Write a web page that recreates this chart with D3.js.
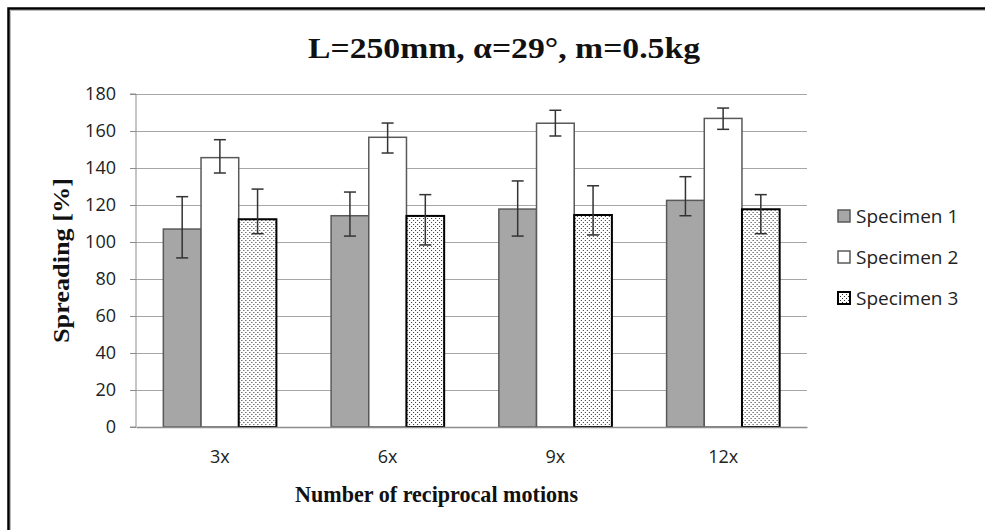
<!DOCTYPE html>
<html>
<head>
<meta charset="utf-8">
<script src="https://cdn.jsdelivr.net/npm/d3@7"></script>
<style>
  body { margin: 0; background: #fff; overflow: hidden; }
  svg { display: block; }
</style>
</head>
<body>
<div id="app"></div>
<script>
var categories = ["3x", "6x", "9x", "12x"];
var seriesNames = ["Specimen 1", "Specimen 2", "Specimen 3"];

// bar heights per series
var specimen1 = [107, 114.2, 117.8, 122.5];
var specimen2 = [145.6, 156.6, 164.2, 166.8];
var specimen3 = [112.3, 114.1, 114.6, 117.7];

// error bar ends (upper / lower)
var specimen1Hi = [124.5, 127, 133, 135.3];
var specimen1Lo = [91.4, 103.2, 103.2, 114.2];
var specimen2Hi = [155.3, 164.3, 171.2, 172.4];
var specimen2Lo = [137.3, 148.1, 157.3, 160.9];
var specimen3Hi = [128.6, 125.6, 130.4, 125.6];
var specimen3Lo = [104.5, 98.4, 103.8, 104.5];

var yTicks = [0, 20, 40, 60, 80, 100, 120, 140, 160, 180];

var W = 985, H = 530;
var margin = { top: 94, right: 178, bottom: 103, left: 136 };
var plotW = W - margin.left - margin.right;
var plotH = H - margin.top - margin.bottom;

var sansFont = "'Open Sans', 'Noto Sans', sans-serif";
var serifFont = "'Liberation Serif', 'DejaVu Serif', serif";

var rows = categories.map(function (c, i) {
    return [
        { cat: c, s: 0, v: specimen1[i], hi: specimen1Hi[i], lo: specimen1Lo[i] },
        { cat: c, s: 1, v: specimen2[i], hi: specimen2Hi[i], lo: specimen2Lo[i] },
        { cat: c, s: 2, v: specimen3[i], hi: specimen3Hi[i], lo: specimen3Lo[i] }
    ];
});

var fills = ["#a6a6a6", "#ffffff", "url(#dots)"];
var strokes = ["#595959", "#595959", "#000000"];
var strokeW = [1.5, 1.5, 2];

var svg = d3.select("#app")
    .append("svg")
    .attr("width", W)
    .attr("height", H);

var defs = svg.append("defs");
var pat = defs.append("pattern")
    .attr("id", "dots")
    .attr("width", 4)
    .attr("height", 4)
    .attr("patternUnits", "userSpaceOnUse");
pat.append("rect").attr("width", 4).attr("height", 4).attr("fill", "#fff");
pat.append("rect").attr("x", 0).attr("y", 0).attr("width", 1).attr("height", 1).attr("fill", "#333");
pat.append("rect").attr("x", 2).attr("y", 2).attr("width", 1).attr("height", 1).attr("fill", "#333");

//FRAME (only top and left edges are inside the picture)
svg.append("path")
    .attr("d", "M8.5," + H + "V8.5H" + W)
    .style("fill", "none")
    .style("stroke", "#000")
    .style("stroke-width", 2.5);
svg.append("path")
    .attr("d", "M10.5," + H + "V10.5H" + W)
    .style("fill", "none")
    .style("stroke", "#bbb")
    .style("stroke-width", 1);

var g = svg.append("g")
    .attr("transform", "translate(" + margin.left + "," + margin.top + ")");

var x = d3.scaleBand()
    .domain(categories)
    .range([0, plotW])
    .paddingInner(0.326)
    .paddingOuter(0.163);

var xs = d3.scaleBand()
    .domain([0, 1, 2])
    .range([0, x.bandwidth()]);

var y = d3.scaleLinear()
    .domain([0, 180])
    .range([plotH, 0]);

//GRID
g.append("g")
    .attr("class", "grid")
    .call(d3.axisLeft(y).tickValues(yTicks.slice(1)).tickSize(-plotW).tickFormat(""))
    .call(function (s) {
        s.select(".domain").remove();
        s.selectAll("line").style("stroke", "#a6a6a6").style("stroke-width", 1);
    });

//Y AXIS
g.append("g")
    .call(d3.axisLeft(y).tickValues(yTicks).tickSize(6).tickPadding(14))
    .call(function (s) {
        s.select(".domain").style("stroke", "#8c8c8c").attr("d", "M-6," + plotH + "H0V0H-6");
        s.selectAll("line").style("stroke", "#8c8c8c");
        s.selectAll("text")
            .style("font-family", sansFont)
            .style("font-size", "18px")
            .style("fill", "#222");
    });

//BARS
var groups = g.selectAll(".grp")
    .data(rows)
    .enter()
    .append("g")
    .attr("class", "grp")
    .attr("transform", function (d) { return "translate(" + x(d[0].cat) + ",0)"; });

groups.selectAll("rect")
    .data(function (d) { return d; })
    .enter()
    .append("rect")
    .attr("x", function (d) { return xs(d.s); })
    .attr("y", function (d) { return y(d.v); })
    .attr("width", xs.bandwidth())
    .attr("height", function (d) { return y(0) - y(d.v); })
    .style("fill", function (d) { return fills[d.s]; })
    .style("stroke", function (d) { return strokes[d.s]; })
    .style("stroke-width", function (d) { return strokeW[d.s]; });

//X AXIS
g.append("g")
    .attr("transform", "translate(0," + plotH + ")")
    .call(d3.axisBottom(x).tickSize(0).tickPadding(23))
    .call(function (s) {
        s.select(".domain").style("stroke", "#8c8c8c").style("stroke-width", 1.5);
        s.selectAll("text")
            .style("font-family", sansFont)
            .style("font-size", "18px")
            .style("fill", "#222");
    });

//ERROR BARS
var cap = 6;
var eb = groups.selectAll(".err")
    .data(function (d) { return d; })
    .enter()
    .append("g")
    .attr("class", "err")
    .style("stroke", "#333")
    .style("stroke-width", 1.5);
eb.append("line")
    .attr("x1", function (d) { return xs(d.s) + xs.bandwidth() / 2; })
    .attr("x2", function (d) { return xs(d.s) + xs.bandwidth() / 2; })
    .attr("y1", function (d) { return y(d.hi); })
    .attr("y2", function (d) { return y(d.lo); });
eb.append("line")
    .attr("x1", function (d) { return xs(d.s) + xs.bandwidth() / 2 - cap; })
    .attr("x2", function (d) { return xs(d.s) + xs.bandwidth() / 2 + cap; })
    .attr("y1", function (d) { return y(d.hi); })
    .attr("y2", function (d) { return y(d.hi); });
eb.append("line")
    .attr("x1", function (d) { return xs(d.s) + xs.bandwidth() / 2 - cap; })
    .attr("x2", function (d) { return xs(d.s) + xs.bandwidth() / 2 + cap; })
    .attr("y1", function (d) { return y(d.lo); })
    .attr("y2", function (d) { return y(d.lo); });

//TITLES
svg.append("text")
    .attr("x", 504)
    .attr("y", 58)
    .attr("text-anchor", "middle")
    .attr("textLength", 392)
    .attr("lengthAdjust", "spacingAndGlyphs")
    .style("font-family", serifFont)
    .style("font-weight", "bold")
    .style("font-size", "30px")
    .style("fill", "#111")
    .text("L=250mm, \u03b1=29\u00b0, m=0.5kg");

svg.append("text")
    .attr("x", 436.5)
    .attr("y", 502)
    .attr("text-anchor", "middle")
    .attr("textLength", 283)
    .attr("lengthAdjust", "spacingAndGlyphs")
    .style("font-family", serifFont)
    .style("font-weight", "bold")
    .style("font-size", "23px")
    .style("fill", "#111")
    .text("Number of reciprocal motions");

svg.append("text")
    .attr("transform", "translate(69," + (margin.top + plotH / 2) + ") rotate(-90)")
    .attr("text-anchor", "middle")
    .attr("textLength", 165)
    .attr("lengthAdjust", "spacingAndGlyphs")
    .style("font-family", serifFont)
    .style("font-weight", "bold")
    .style("font-size", "23px")
    .style("fill", "#111")
    .text("Spreading [%]");

//LEGEND
var legend = svg.selectAll(".leg")
    .data(seriesNames)
    .enter()
    .append("g")
    .attr("class", "leg")
    .attr("transform", function (d, i) { return "translate(838," + (216 + i * 41) + ")"; });
legend.append("rect")
    .attr("x", 0)
    .attr("y", -6)
    .attr("width", 12)
    .attr("height", 12)
    .style("fill", function (d, i) { return fills[i]; })
    .style("stroke", function (d, i) { return strokes[i]; })
    .style("stroke-width", function (d, i) { return strokeW[i]; });
legend.append("text")
    .attr("x", 18)
    .attr("y", 0)
    .attr("dy", "0.35em")
    .style("font-family", sansFont)
    .style("font-size", "19px")
    .style("fill", "#222")
    .text(function (d) { return d; });
</script>
</body>
</html>
